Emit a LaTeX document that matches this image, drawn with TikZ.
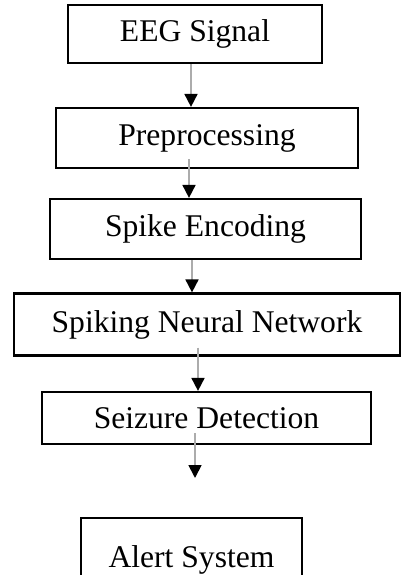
\documentclass[tikz,border=0pt]{standalone}
\usepackage{fontspec}
\setmainfont{Liberation Serif}
\usepackage{tikz}
\usetikzlibrary{shapes,arrows,positioning,calc,arrows.meta}

\begin{document}
\begin{tikzpicture}[x=1pt,y=-1pt,
    box/.style={draw,rectangle,line width=2.2pt,inner sep=0pt,
        font=\fontsize{31.6}{36}\selectfont},
    flow/.style={draw=gray!65,line width=1.8pt,
        -{Triangle[length=13pt,width=13pt,color=black]}}]
    \useasboundingbox (0,0) rectangle (401,575);

    % Stages
    \node[box,minimum width=254pt,minimum height=58pt] (sig) at (195,34) {EEG Signal};
    \node[box,minimum width=302pt,minimum height=60pt] (pre) at (207,138) {Preprocessing};
    \node[box,minimum width=311pt,minimum height=60pt] (enc) at (205.5,229) {Spike Encoding};
    \node[box,minimum width=386pt,minimum height=62pt] (snn) at (207,324.5) {Spiking Neural Network};
    \node[box,minimum width=329pt,minimum height=52pt] (det) at (206.5,418) {Seizure Detection};
    \node[box,minimum width=221pt,minimum height=84pt] (alr) at (191.5,560) {Alert System};

    % Arrows
    \draw[flow] ([xshift=-4pt]sig.south) -- ([xshift=-16pt]pre.north);
    \draw[flow] ([xshift=-18pt,yshift=10pt]pre.south) -- ([xshift=-16.5pt]enc.north);
    \draw[flow] ([xshift=-13.5pt]enc.south) -- ([xshift=-15pt]snn.north);
    \draw[flow] ([xshift=-9pt,yshift=9pt]snn.south) -- ([xshift=-8.5pt]det.north);
    \coordinate (detend) at (195,478);
    \draw[flow] ([xshift=-11.5pt,yshift=12pt]det.south) -- (detend);
\end{tikzpicture}
\end{document}
